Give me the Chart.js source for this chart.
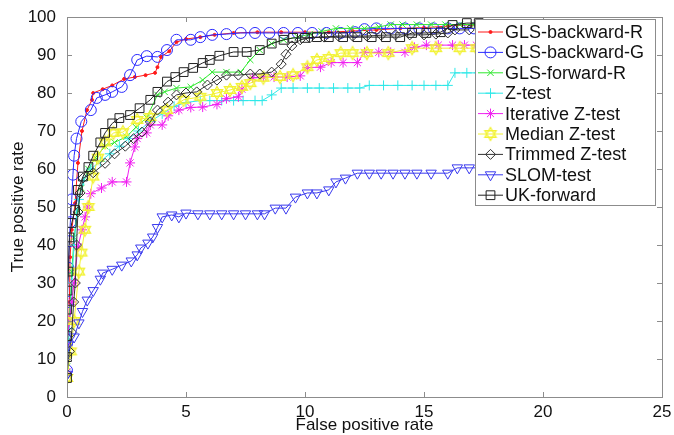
<!DOCTYPE html>
<html>
<head>
<meta charset="utf-8">
<script src="https://cdn.jsdelivr.net/npm/chart.js@4.4.0/dist/chart.umd.min.js"></script>
<style>html,body{margin:0;background:#fff}</style>
</head>
<body>
<canvas id="c" width="674" height="435"></canvas>
<script>
// ROC curves, values (FPR %, TPR %)
const xTicks = [0, 5, 10, 15, 20, 25];
const yTicks = [0, 10, 20, 30, 40, 50, 60, 70, 80, 90, 100];

const names = ['GLS-backward-R', 'GLS-backward-G', 'GLS-forward-R', 'Z-test',
  'Iterative Z-test', 'Median Z-test', 'Trimmed Z-test', 'SLOM-test', 'UK-forward'];

const glsBackR_x = [0, 0.05, 0.1, 0.13, 0.2, 0.34, 0.46, 0.63, 0.84, 1.05, 1.1, 1.5, 1.9, 2.4, 2.85, 3.3, 3.7, 3.8, 3.95, 4.3, 4.6, 5.0, 5.6, 6.2, 7.0, 8.0, 9.0, 10.0, 11.0, 12.0, 13.0, 14.0, 15.0, 16.0, 17.0, 17.5];
const glsBackR_y = [6, 15, 25, 36.8, 44, 51, 61.6, 70, 75.5, 78.2, 80, 81, 82, 83.7, 84.2, 84.7, 85.3, 86.8, 89.5, 91, 93.4, 94.2, 94.7, 95.3, 95.8, 96, 96, 96, 96, 96.3, 96.6, 97, 97.2, 97.6, 98, 98.2];

const glsBackG_x = [0, 0, 0.03, 0.06, 0.1, 0.14, 0.2, 0.25, 0.3, 0.4, 0.6, 1.0, 1.25, 1.6, 1.9, 2.3, 2.65, 2.95, 3.35, 3.8, 4.2, 4.6, 5.2, 5.6, 6.1, 6.7, 7.3, 7.9, 8.5, 9.1, 9.7, 10.3, 10.9, 11.5, 12.1, 12.5, 13.0, 13.6, 14.2, 14.8, 15.4, 16.0, 16.5, 17.1, 17.6];
const glsBackG_y = [7, 14, 25, 34, 41, 46, 52, 58.5, 63.5, 68, 72.5, 75.5, 78.7, 79.5, 80.3, 81.6, 84.7, 88.7, 89.7, 89.5, 91.3, 94, 94, 94.7, 95.3, 95.5, 95.8, 95.8, 95.8, 95.8, 95.8, 95.8, 95.8, 95.8, 96, 96.8, 97, 97, 97, 97, 97, 97, 97, 97, 97];

const glsFwdR_x = [0, 0.1, 0.2, 0.3, 0.45, 0.6, 0.9, 1.2, 1.6, 2.0, 2.5, 2.9, 3.35, 3.8, 4.1, 4.6, 5.2, 5.7, 6.1, 6.7, 7.3, 7.7, 8.1, 8.6, 9.1, 9.7, 10.2, 10.7, 11.3, 11.9, 12.5, 13.1, 13.6, 14.1, 14.7, 15.3, 15.9, 16.5, 17.1, 17.6];
const glsFwdR_y = [8, 20, 33, 42, 49, 55, 60, 63, 66, 67, 68.5, 71, 73.5, 79.5, 80.3, 81.3, 81.6, 83.4, 85.5, 85.5, 85.5, 88.7, 91.3, 93, 94, 94.7, 95.5, 96.2, 97, 97, 97, 97.4, 98, 98, 98, 98, 98, 98, 98, 98.3];

const zTest_x = [0, 0.1, 0.2, 0.3, 0.4, 0.5, 0.7, 1.0, 1.4, 1.8, 2.2, 2.6, 3.0, 3.5, 4.0, 4.5, 5.0, 5.6, 6.0, 6.5, 7.0, 7.4, 7.9, 8.2, 8.6, 9.0, 9.5, 10.1, 10.6, 11.2, 11.8, 12.3, 12.7, 13.3, 13.9, 14.5, 15.0, 15.5, 16.0, 16.3, 16.8, 17.3];
const zTest_y = [6, 18, 30, 40, 48, 52, 57, 60, 62, 64, 66, 68, 70, 72.5, 74.5, 76.5, 77.5, 78, 78, 78, 78, 78, 78, 78, 79.5, 81.3, 81.3, 81.3, 81.3, 81.3, 81.3, 81.3, 82, 82, 82, 82, 82, 82, 82, 85.3, 85.3, 85.3];

const iterZ_x = [0, 0, 0.1, 0.2, 0.3, 0.46, 0.63, 0.76, 0.88, 1.0, 1.45, 1.9, 2.5, 2.65, 2.85, 2.95, 3.35, 3.5, 4.0, 4.25, 4.7, 5.2, 5.7, 6.3, 6.7, 7.2, 7.35, 7.8, 8.25, 8.7, 9.25, 9.8, 10.1, 10.65, 11.1, 11.6, 12.2, 12.5, 13.1, 13.6, 14.2, 14.6, 15.1, 15.6, 16.2, 16.7, 17.2];
const iterZ_y = [6.6, 13.7, 20, 25, 30, 39.5, 44, 47.4, 50, 53.5, 55, 56.6, 56.6, 61.6, 65.8, 68, 69.5, 71.6, 71.6, 74, 75.5, 76.2, 76.3, 77, 78.5, 79, 81, 84, 84.2, 84.2, 84.2, 84.5, 86.7, 86.8, 88, 88, 88, 90.7, 90.7, 90.7, 90.7, 92, 92.6, 92.6, 92.6, 92.6, 92.6];

const medianZ_x = [0, 0.15, 0.3, 0.5, 0.6, 0.75, 0.9, 1.1, 1.3, 1.6, 1.95, 2.35, 2.95, 3.5, 4.2, 4.9, 5.6, 6.3, 6.85, 7.35, 7.7, 8.25, 8.95, 9.5, 10.1, 10.5, 11.0, 11.5, 12.0, 12.6, 13.5, 14.5, 15.5, 16.5, 17.2];
const medianZ_y = [5, 12, 20, 33, 38, 44, 50, 58, 63, 67, 69.5, 69.7, 72.9, 73.7, 75.5, 78.2, 79, 80, 80.8, 81.6, 82.6, 84, 84.2, 84.7, 86.8, 88.7, 89.2, 90.5, 90.5, 90.5, 90.5, 91.8, 91.8, 91.8, 91.8];

const trimZ_x = [0, 0.1, 0.2, 0.28, 0.35, 0.4, 0.46, 0.55, 0.67, 1.1, 1.6, 2.0, 2.45, 2.8, 3.15, 3.5, 3.8, 4.25, 4.6, 5.0, 5.45, 5.9, 6.3, 6.7, 7.2, 7.7, 8.1, 8.6, 9.0, 9.2, 9.45, 9.8, 10.2, 10.8, 11.4, 12.0, 12.6, 13.2, 13.8, 14.4, 15.0, 15.5, 16.0, 16.3, 16.9];
const trimZ_y = [6, 12, 17, 25, 30, 40, 48.7, 53.7, 57.6, 59, 61.5, 64, 66, 68, 69.7, 72.4, 75.5, 77.6, 79.5, 80, 80.3, 82.1, 83.4, 84.7, 84.7, 85, 85, 85.5, 87.6, 90.2, 92.4, 94, 94.5, 94.7, 95, 95, 95, 95.2, 95.3, 95.3, 95.3, 95.5, 95.8, 96.6, 96.6];

const slom_x = [0, 0.05, 0.3, 0.5, 0.65, 0.85, 1.1, 1.4, 1.5, 1.9, 2.3, 2.7, 2.95, 3.1, 3.4, 3.6, 3.8, 4.0, 4.4, 4.7, 5.0, 5.5, 6.0, 6.5, 7.0, 7.5, 8.0, 8.3, 8.75, 9.2, 9.6, 10.1, 10.5, 11.0, 11.3, 11.7, 12.2, 12.7, 13.2, 13.7, 14.2, 14.7, 15.3, 16.0, 16.4, 16.9, 17.4];
const slom_y = [6, 13.7, 15.8, 19.5, 22.5, 25.5, 28, 31, 32.6, 33.6, 34.7, 35.8, 37.4, 39.2, 40.5, 42.1, 44.6, 47.4, 47.9, 47.4, 48.4, 48.2, 48.2, 48.2, 48.2, 48.2, 48.2, 48.2, 49.7, 49.7, 52.6, 53.7, 53.7, 54.5, 56.6, 57.6, 58.9, 58.9, 58.9, 58.9, 58.9, 58.9, 58.9, 58.9, 60.3, 60.3, 60.3];

const ukFwd_x = [0, 0, 0, 0, 0.02, 0.06, 0.1, 0.2, 0.34, 0.46, 0.67, 0.9, 1.1, 1.4, 1.6, 1.9, 2.2, 2.65, 3.05, 3.5, 3.8, 4.2, 4.55, 4.9, 5.3, 5.7, 6.0, 6.4, 7.0, 7.55, 8.1, 8.6, 9.1, 9.5, 10.0, 10.5, 11.0, 11.6, 12.2, 12.8, 13.4, 14.0, 14.5, 15.1, 15.7, 16.2, 16.8, 17.3];
const ukFwd_y = [5, 10.5, 16, 23, 28, 33, 42, 45.8, 49.2, 54.5, 58, 60.5, 63.5, 67, 69.5, 72, 73.4, 74.2, 76, 78.2, 80.3, 83, 84.2, 85.5, 86.6, 87.9, 88.7, 89.8, 90.8, 90.8, 91.3, 93, 94, 94.5, 94.5, 94.7, 94.7, 94.7, 94.7, 94.7, 94.7, 94.7, 95.8, 95.8, 96, 97.9, 98.4, 98.4];

const allX = [glsBackR_x, glsBackG_x, glsFwdR_x, zTest_x, iterZ_x, medianZ_x, trimZ_x, slom_x, ukFwd_x];
const allY = [glsBackR_y, glsBackG_y, glsFwdR_y, zTest_y, iterZ_y, medianZ_y, trimZ_y, slom_y, ukFwd_y];

// hexagram marker (matlab 'h')
function hexagram(color) {
  const c = document.createElement('canvas');
  c.width = c.height = 16;
  const g = c.getContext('2d');
  g.strokeStyle = color;
  g.lineWidth = 1.3;
  for (let k = 0; k < 2; k++) {
    g.beginPath();
    for (let j = 0; j < 3; j++) {
      const a = -Math.PI / 2 + k * Math.PI + j * 2 * Math.PI / 3;
      const px = 8 + 6.5 * Math.cos(a), py = 8 + 6.5 * Math.sin(a);
      if (j) g.lineTo(px, py); else g.moveTo(px, py);
    }
    g.closePath();
    g.stroke();
  }
  return c;
}

const styles = [
  { color: '#ff1a1a', pointStyle: 'circle', radius: 1.5, fill: '#ff1a1a', rotation: 0 },
  { color: '#2b2bff', pointStyle: 'circle', radius: 5.5, fill: 'transparent', rotation: 0 },
  { color: '#2ee82e', pointStyle: 'crossRot', radius: 4.5, fill: 'transparent', rotation: 0 },
  { color: '#2ee8e8', pointStyle: 'cross', radius: 5, fill: 'transparent', rotation: 0 },
  { color: '#f020f0', pointStyle: 'star', radius: 5, fill: 'transparent', rotation: 0 },
  { color: '#f2f230', pointStyle: hexagram('#f2f230'), radius: 6, fill: 'transparent', rotation: 0 },
  { color: '#333333', pointStyle: 'rectRot', radius: 5, fill: 'transparent', rotation: 0 },
  { color: '#3a3aee', pointStyle: 'triangle', radius: 6, fill: 'transparent', rotation: 180 },
  { color: '#222222', pointStyle: 'rect', radius: 6.2, fill: 'transparent', rotation: 0 }
];

const datasets = names.map((n, i) => ({
  label: n,
  data: allX[i].map((x, j) => ({ x: x, y: allY[i][j] })),
  showLine: true,
  borderColor: styles[i].color,
  borderWidth: 1,
  pointStyle: styles[i].pointStyle,
  pointRadius: styles[i].radius,
  pointRotation: styles[i].rotation,
  pointBorderColor: styles[i].color,
  pointBackgroundColor: styles[i].fill,
  pointBorderWidth: 1,
  order: -i
}));

const boxAndLegend = {
  id: 'boxAndLegend',
  afterDatasetsDraw(chart) {
    const { ctx, chartArea: a, scales } = chart;
    ctx.save();
    ctx.strokeStyle = '#8c8c8c';
    ctx.lineWidth = 1;
    ctx.strokeRect(a.left + 0.5, a.top + 0.5, a.right - a.left, a.bottom - a.top);
    ctx.beginPath();
    xTicks.forEach(v => {
      const px = Math.round(scales.x.getPixelForValue(v)) + 0.5;
      ctx.moveTo(px, a.bottom); ctx.lineTo(px, a.bottom - 5);
      ctx.moveTo(px, a.top); ctx.lineTo(px, a.top + 5);
    });
    yTicks.forEach(v => {
      const py = Math.round(scales.y.getPixelForValue(v)) + 0.5;
      ctx.moveTo(a.left, py); ctx.lineTo(a.left + 5, py);
      ctx.moveTo(a.right, py); ctx.lineTo(a.right - 5, py);
    });
    ctx.stroke();

    // legend box
    const lx = 475, ly = 19, lw = 180, lh = 186;
    ctx.fillStyle = '#fff';
    ctx.fillRect(lx, ly, lw, lh);
    ctx.strokeStyle = '#8c8c8c';
    ctx.strokeRect(lx + 0.5, ly + 0.5, lw, lh);
    ctx.font = '18px "Liberation Sans", Arial, sans-serif';
    ctx.textBaseline = 'middle';
    ctx.textAlign = 'left';
    names.forEach((n, i) => {
      const yy = 32 + i * 20.4;
      const s = styles[i];
      ctx.strokeStyle = s.color;
      ctx.lineWidth = 1;
      ctx.beginPath();
      ctx.moveTo(478, yy); ctx.lineTo(503, yy);
      ctx.stroke();
      if (Chart.helpers && Chart.helpers.drawPoint) {
        ctx.fillStyle = s.fill;
        Chart.helpers.drawPoint(ctx, { pointStyle: s.pointStyle, radius: s.radius, rotation: s.rotation, borderWidth: 1 }, 490.5, yy);
      }
      ctx.fillStyle = '#111';
      ctx.fillText(n, 505, yy + 1);
    });
    ctx.restore();
  }
};

Chart.defaults.font.family = '"Liberation Sans", Arial, sans-serif';
Chart.defaults.color = '#111';

new Chart(document.getElementById('c'), {
  type: 'scatter',
  data: { datasets: datasets },
  options: {
    responsive: false,
    animation: false,
    layout: { padding: { top: 17, right: 12, left: 0, bottom: 0 } },
    plugins: { legend: { display: false }, tooltip: { enabled: false } },
    scales: {
      x: {
        type: 'linear', min: 0, max: 25,
        afterFit: s => { s.height = 38; },
        afterBuildTicks: s => { s.ticks = xTicks.map(v => ({ value: v })); },
        grid: { display: false },
        border: { display: false },
        ticks: { font: { size: 17 }, padding: -3, maxRotation: 0 },
        title: { display: true, text: 'False positive rate', font: { size: 17 }, padding: { top: 0, bottom: -1 } }
      },
      y: {
        type: 'linear', min: 0, max: 100,
        afterFit: s => { s.width = 67; },
        afterBuildTicks: s => { s.ticks = yTicks.map(v => ({ value: v })); },
        grid: { display: false },
        border: { display: false },
        ticks: { font: { size: 17 }, padding: 3 },
        title: { display: true, text: 'True positive rate', font: { size: 17 }, padding: { top: 8, bottom: 4 } }
      }
    }
  },
  plugins: [boxAndLegend]
});
</script>
</body>
</html>
